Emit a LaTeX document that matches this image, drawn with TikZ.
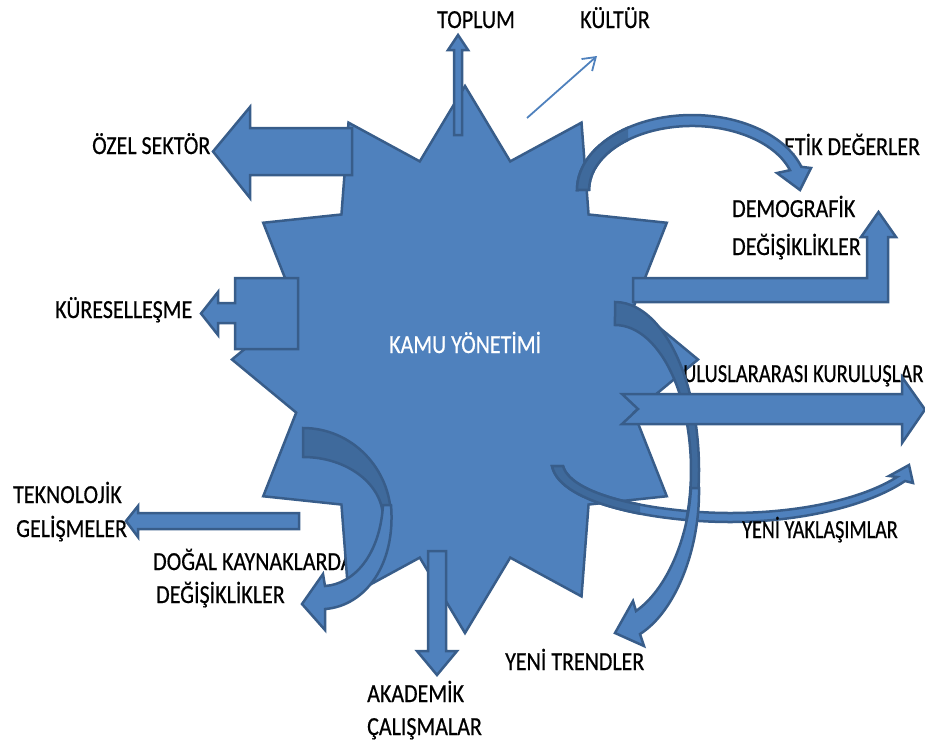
\documentclass[tikz,border=0pt]{standalone}
\usepackage{fontspec}
\setmainfont{Carlito}
\newfontfamily\lblfont{Carlito}[FakeBold=0.6]
\usepackage{graphicx}
\usetikzlibrary{arrows.meta}
\definecolor{bfill}{HTML}{4F81BD}
\definecolor{bline}{HTML}{385D8A}
\definecolor{bdark}{HTML}{3F6A9C}
\newcommand{\sq}[2][0.845]{\scalebox{#1}[1]{#2}}
\tikzset{
  shapeb/.style={fill=bfill, draw=bline, line width=2.5pt, line join=miter},
  backb/.style={fill=bdark, draw=bline, line width=2.5pt, line join=miter},
  kline/.style={draw=bfill, line width=1.8pt, -{Straight Barb[length=12pt,width=16pt]}},
  lbl/.style={inner sep=0pt, anchor=base west, font=\lblfont\fontsize{26}{30}\selectfont, text=black},
}
\begin{document}
\begin{tikzpicture}[x=1pt,y=-1pt]
\useasboundingbox (0,0) rectangle (925,744);

% text lying behind the star
\node[lbl] (dogal1) at (153,570) {\sq{DOĞAL KAYNAKLARDA}};

% the star
\begin{scope}[shift={(465,359.5)}]
\draw[shapeb] (270:233 and 273.5)
  \foreach \a in {1,...,12} { -- ({285-30*\a}:174.75 and 205.1) -- ({270-30*\a}:233 and 273.5) } -- cycle;
\end{scope}

% texts lying behind arrows
\node[lbl] (etik) at (784,155) {\sq{ETİK DEĞERLER}};
\node[lbl] (ulus) at (683,382) {\sq[0.79]{ULUSLARARASI KURULUŞLAR}};

% ÖZEL SEKTÖR arrow
\draw[shapeb] (352,128) -- (250,128) -- (250,107) -- (213,151.5) -- (250,198) -- (250,175) -- (352,175) -- cycle;
% TOPLUM arrow
\draw[shapeb] (454,135) -- (454,50) -- (448,50) -- (458,35) -- (468,50) -- (462,50) -- (462,135) -- cycle;
% KÜLTÜR arrow
\coordinate (kulA) at (527,118);
\coordinate (kulB) at (597,56);
\draw[kline] (kulA) -- (kulB);
% KÜRESELLEŞME callout
\draw[shapeb] (298,278) -- (235,278) -- (235,303) -- (218,303) -- (218,292) -- (201,313.5) -- (218,335) -- (218,323) -- (235,323) -- (235,349) -- (298,349) -- cycle;
% DEMOGRAFİK bent arrow
\draw[shapeb] (633,278) -- (867,278) -- (867,237) -- (861,237) -- (878.5,212) -- (896,237) -- (888,237) -- (888,302) -- (633,302) -- cycle;
% ETİK curved arrow
\def\etikpath{(577,190) arc[start angle=180,end angle=342,x radius=115,y radius=75] -- (811,168) -- (800,190) -- (777,173) -- (790,170.2) arc[start angle=342,end angle=180,x radius=103,y radius=64] -- cycle}
\draw[shapeb] \etikpath;
\begin{scope}
\clip (560,100) rectangle (628,200);
\draw[backb] \etikpath;
\end{scope}

% YENİ YAKLAŞIMLAR curved arrow
\def\yakpath{(552,466) .. controls (560,505) and (660,522) .. (730,522) .. controls (800,522) and (868,506) .. (905,481) -- (913,483) -- (909,465) -- (889,476) -- (897,477) .. controls (862,499) and (800,513) .. (730,513) .. controls (665,513) and (572,498) .. (563,466) -- cycle}
\draw[shapeb] \yakpath;
\begin{scope}
\clip (540,440) rectangle (640,540);
\draw[backb] \yakpath;
\end{scope}

% YENİ TRENDLER curved arrow
\draw[backb] (615,302) arc[start angle=270,end angle=380,x radius=84,y radius=168] -- (686.4,519.6) arc[start angle=380,end angle=270,x radius=76,y radius=145] -- cycle;
\draw[shapeb] (699,488) .. controls (700,550) and (675,612) .. (640,634) -- (644,646) -- (615,633) -- (633,601) -- (636,611) .. controls (666,590) and (688,540) .. (691,488) -- cycle;

% ULUSLARARASI notched arrow
\draw[shapeb] (622,394) -- (902,394) -- (902,377) -- (925,409.5) -- (902,443) -- (902,424) -- (622,424) -- (638,409) -- cycle;

% TEKNOLOJİK arrow
\draw[shapeb] (299,513) -- (138,513) -- (138,506) -- (126,521) -- (138,537) -- (138,529) -- (299,529) -- cycle;

% DOĞAL KAYNAKLARDA curved arrow
\draw[backb] (303,428) arc[start angle=270,end angle=360,x radius=88,y radius=90] -- (383,518) arc[start angle=360,end angle=270,x radius=80,y radius=61] -- cycle;
\draw[shapeb] (391,505) .. controls (396,565) and (365,606) .. (325,609) -- (325,630) -- (302,604) -- (323,574) -- (325,586) .. controls (354,584) and (380,555) .. (383,505) -- cycle;

% AKADEMİK arrow
\draw[shapeb] (428,551) -- (446,551) -- (446,651) -- (457,651) -- (437,675) -- (417,651) -- (428,651) -- cycle;

% remaining texts
\node[lbl] (toplum) at (437,28) {\sq{TOPLUM}};
\node[lbl] (kultur) at (580,28) {\sq{KÜLTÜR}};
\node[lbl] (ozel) at (92,154) {\sq{ÖZEL SEKTÖR}};
\node[lbl] (demo1) at (732,217) {\sq{DEMOGRAFİK}};
\node[lbl] (demo2) at (732,255) {\sq{DEĞİŞİKLİKLER}};
\node[lbl] (kuresel) at (55,318) {\sq{KÜRESELLEŞME}};
\node[lbl,text=white] (kamu) at (389,353) {\sq{KAMU YÖNETİMİ}};
\node[lbl] (tekno1) at (13,503) {\sq{TEKNOLOJİK}};
\node[lbl] (tekno2) at (16,537) {\sq{GELİŞMELER}};
\node[lbl] (dogal2) at (156,603) {\sq{DEĞİŞİKLİKLER}};
\node[lbl] (akad1) at (367,702) {\sq{AKADEMİK}};
\node[lbl] (akad2) at (367,735) {\sq{ÇALIŞMALAR}};
\node[lbl] (trend) at (505,670) {\sq{YENİ TRENDLER}};
\node[lbl] (yaklas) at (742,538) {\sq[0.775]{YENİ YAKLAŞIMLAR}};
\end{tikzpicture}
\end{document}
